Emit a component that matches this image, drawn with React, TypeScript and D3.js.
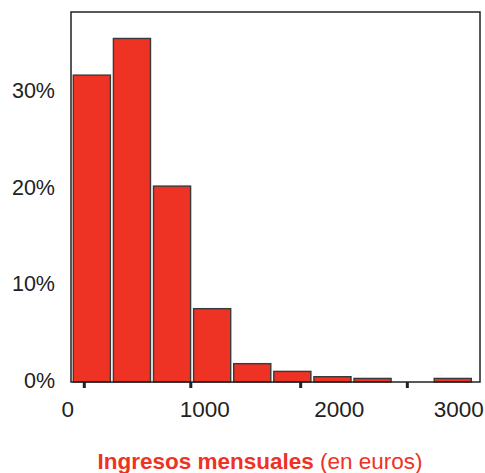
import React from "react";
import * as d3 from "d3";

const binShares = [0.318, 0.356, 0.203, 0.076, 0.019, 0.011, 0.0055, 0.0037, 0, 0.0037];
const yTicks = [0, 0.1, 0.2, 0.3];
const xTickLabels = ["0", "1000", "2000", "3000"];
const xLabelPos = [-0.12, 3.3, 6.65, 9.63];
const xTickMarks = [0.294, 2.95, 5.69, 8.35];

const W = 485;
const H = 473;
const frame = { left: 71, top: 12, right: 480, bottom: 382 };
const RED = "#EE3224";
const FONT = "Liberation Sans, Arial, Helvetica, sans-serif";

export default function App() {
  const x = d3.scaleLinear().domain([0, 10]).range([72.5, 473.5]);
  const y = d3.scaleLinear().domain([0, 0.1]).range([382, 285.5]);
  const pct = d3.format(".0%");
  return (
    <svg width={W} height={H} style={{ position: "absolute", left: 0, top: 0 }} fontFamily={FONT}>
      <rect x={0} y={0} width={W} height={H} fill="#fff" />
      {binShares.map((v, i) =>
        v > 0 ? (
          <rect
            key={i}
            x={x(i) + 0.8}
            y={y(v)}
            width={x(i + 1) - x(i) - 3}
            height={y(0) - y(v)}
            fill={RED}
            stroke="#3a3a3a"
            strokeWidth={1.4}
          />
        ) : null
      )}
      <rect
        x={frame.left}
        y={frame.top}
        width={frame.right - frame.left}
        height={frame.bottom - frame.top}
        fill="none"
        stroke="#222"
        strokeWidth={1.5}
      />
      {xTickMarks.map((t, i) => (
        <line key={i} x1={x(t)} x2={x(t)} y1={frame.bottom} y2={frame.bottom + 6} stroke="#222" strokeWidth={3} />
      ))}
      {yTicks.map((t) => (
        <text key={t} x={55} y={y(t) - 1.5} textAnchor="end" dominantBaseline="central" fontSize={21.5} fill="#222">
          {pct(t)}
        </text>
      ))}
      {xTickLabels.map((l, i) => (
        <text key={l} x={x(xLabelPos[i])} y={417} textAnchor="middle" fontSize={22.5} fill="#222">
          {l}
        </text>
      ))}
      <text x={260} y={469} textAnchor="middle" fontSize={22.5} fill={RED}>
        <tspan fontWeight="bold">Ingresos mensuales</tspan>
        <tspan> (en euros)</tspan>
      </text>
    </svg>
  );
}
